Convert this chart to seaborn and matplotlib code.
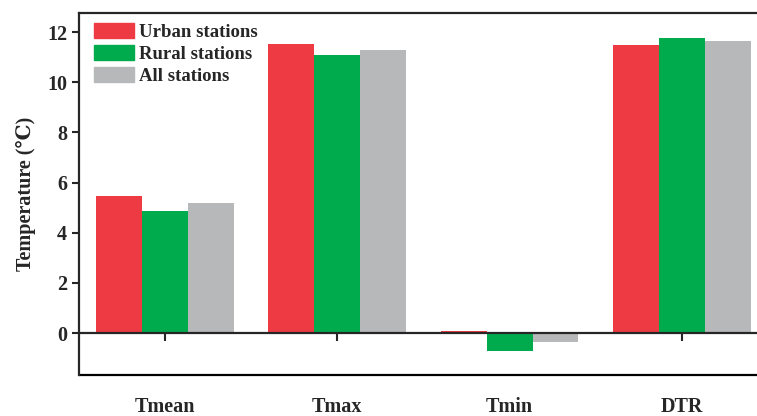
import pandas as pd
import seaborn as sns
import matplotlib.pyplot as plt

# data
variables = ['Tmean', 'Tmax', 'Tmin', 'DTR']
urban = [5.46, 11.52, 0.08, 11.48]
rural = [4.86, 11.08, -0.72, 11.78]
all_st = [5.18, 11.28, -0.36, 11.64]
groups = ['Urban stations', 'Rural stations', 'All stations']
colors = ['#EE3A43', '#00AB4E', '#B7B8BA']

df = pd.DataFrame({
    'var': variables * 3,
    'group': [groups[0]] * 4 + [groups[1]] * 4 + [groups[2]] * 4,
    'temp': urban + rural + all_st,
})

sns.set_style('ticks')
plt.rcParams['font.family'] = ['Liberation Serif', 'DejaVu Serif']
plt.rcParams['font.weight'] = 'bold'

fig = plt.figure(figsize=(7.57, 4.16), dpi=100)
ax = fig.add_axes([0.1044, 0.0986, 0.91, 0.8702])

sns.barplot(data=df, x='var', y='temp', hue='group', palette=colors,
            saturation=1, width=0.8, edgecolor='none', ax=ax, legend=False)

ymin, ymax = -1.67, 12.76
ax.set_ylim(ymin, ymax)
ax.set_xlim(-0.5, 3.5)
ax.set_yticks(range(0, 13, 2))

# zero line carries the x ticks, a plain frame line closes the box
ax.spines['bottom'].set_position(('data', 0))
ax.axhline(ymin, color='black', lw=1.6, clip_on=False)
for s in ax.spines.values():
    s.set_linewidth(1.6)

ax.tick_params(axis='y', direction='out', length=5, width=1.5, labelsize=14.5)
ax.tick_params(axis='x', direction='out', length=6, width=1.5, labelsize=14.5, pad=40)
for lab in ax.get_xticklabels() + ax.get_yticklabels():
    lab.set_fontweight('bold')

ax.set_xlabel('')
ax.set_ylabel('Temperature (℃)', fontsize=14.5, fontweight='bold', labelpad=8)

handles = [plt.Rectangle((0, 0), 1, 1, color=c) for c in colors]
leg = ax.legend(handles, groups, loc='upper left', bbox_to_anchor=(0.0, 1.015),
                frameon=False, fontsize=13.5, handlelength=2.15, handleheight=0.9,
                handletextpad=0.25, labelspacing=0.2, borderaxespad=0.4)
for t in leg.get_texts():
    t.set_fontweight('bold')

fig.savefig('out.png', dpi=100)
